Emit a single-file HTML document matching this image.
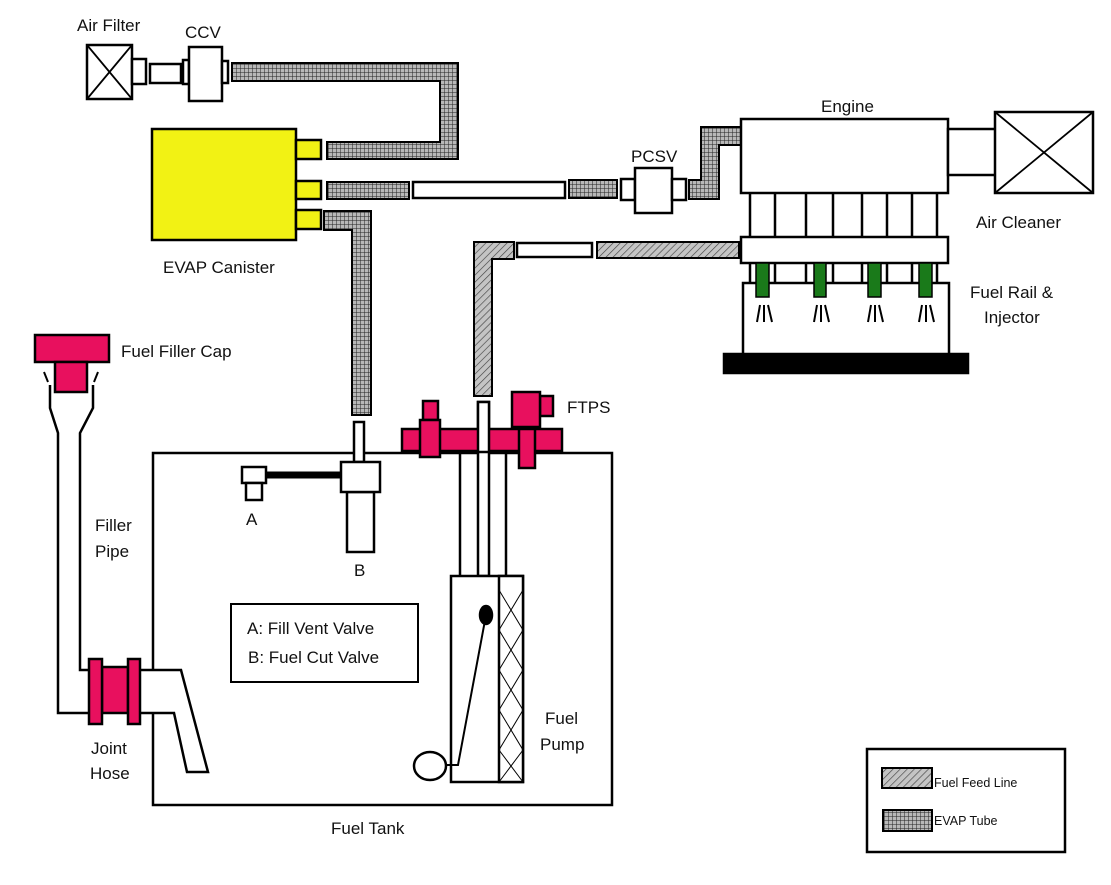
<!DOCTYPE html>
<html><head><meta charset="utf-8"><style>
html,body{margin:0;padding:0;background:#fff;}
svg{display:block;}
text{font-family:"Liberation Sans",Arial,sans-serif;fill:#111;}
</style></head><body>
<svg width="1111" height="885" viewBox="0 0 1111 885" xmlns="http://www.w3.org/2000/svg">
<defs>
<pattern id="grid" width="4" height="4" patternUnits="userSpaceOnUse">
<rect width="4" height="4" fill="#b8b8b8"/>
<path d="M0 0H4M0 0V4" stroke="#222" stroke-width="1"/>
</pattern>
<pattern id="hatch" width="5" height="5" patternUnits="userSpaceOnUse" patternTransform="rotate(45)">
<rect width="5" height="5" fill="#c4c4c4"/>
<path d="M0 0V5" stroke="#444" stroke-width="1.3"/>
</pattern>
</defs>
<g stroke="#000" stroke-width="2.5" fill="#fff">
<rect x="87" y="45" width="45" height="54"/>
<path d="M87 45L132 99M132 45L87 99" fill="none" stroke-width="1.8"/>
<rect x="132" y="59" width="14" height="25"/>
<rect x="150" y="64" width="31" height="19"/>
<rect x="183" y="60" width="6" height="24"/>
<rect x="189" y="47" width="33" height="54"/>
<rect x="222" y="61" width="6" height="22"/>
<path d="M232 63H458V159H327V142H440V81H232Z" fill="url(#grid)" stroke-width="2"/>
<rect x="152" y="129" width="144" height="111" fill="#f2f214"/>
<rect x="296" y="140" width="25" height="19" fill="#f2f214"/>
<rect x="296" y="181" width="25" height="18" fill="#f2f214"/>
<rect x="296" y="210" width="25" height="19" fill="#f2f214"/>
<rect x="327" y="182" width="82" height="17" fill="url(#grid)" stroke-width="2"/>
<rect x="413" y="182" width="152" height="16"/>
<rect x="569" y="180" width="48" height="18" fill="url(#grid)" stroke-width="2"/>
<path d="M324 211H371V415H352V230H324Z" fill="url(#grid)" stroke-width="2"/>
<rect x="621" y="179" width="14" height="21"/>
<rect x="635" y="168" width="37" height="45"/>
<rect x="672" y="179" width="14" height="21"/>
<path d="M689 180H701V127H741V145H719V199H689Z" fill="url(#grid)" stroke-width="2"/>
<rect x="741" y="119" width="207" height="74"/>
<rect x="948" y="129" width="48" height="46"/>
<rect x="995" y="112" width="98" height="81"/>
<path d="M995 112L1093 193M1093 112L995 193" fill="none" stroke-width="1.8"/>
<path d="M750 193V237M775 193V237M806 193V237M833 193V237M862 193V237M887 193V237M912 193V237M937 193V237" fill="none"/>
<rect x="743" y="283" width="206" height="72"/>
<path d="M750 263V283M775 263V283M806 263V283M833 263V283M862 263V283M887 263V283M912 263V283M937 263V283" fill="none"/>
<rect x="741" y="237" width="207" height="26"/>
<rect x="756" y="263" width="13" height="34" fill="#1a7a1a" stroke-width="1.5"/>
<rect x="814" y="263" width="12" height="34" fill="#1a7a1a" stroke-width="1.5"/>
<rect x="868" y="263" width="13" height="34" fill="#1a7a1a" stroke-width="1.5"/>
<rect x="919" y="263" width="13" height="34" fill="#1a7a1a" stroke-width="1.5"/>
<g fill="none" stroke-width="2">
<path d="M757 322L760 305M764 305V322M768 305L772 322"/>
<path d="M814 322L817 305M821 305V322M825 305L829 322"/>
<path d="M868 322L871 305M875 305V322M879 305L883 322"/>
<path d="M919 322L922 305M926 305V322M930 305L934 322"/>
</g>
<rect x="724" y="354" width="244" height="19" fill="#000"/>
<rect x="597" y="242" width="142" height="16" fill="url(#hatch)" stroke-width="2"/>
<rect x="517" y="243" width="75" height="14"/>
<path d="M474 242H514V259H492V396H474Z" fill="url(#hatch)" stroke-width="2"/>
<rect x="153" y="453" width="459" height="352" fill="none"/>
<rect x="35" y="335" width="74" height="27" fill="#e8105e"/>
<rect x="55" y="362" width="32" height="30" fill="#e8105e"/>
<path d="M44 372L48 382M98 372L94 382" fill="none" stroke-width="2"/>
<path d="M50 385V408L58 433V713H89M93 385V408L80 433V670H89" fill="none"/>
<path d="M140 670H181L208 772H187L174 713H140" fill="#fff"/>
<rect x="102" y="667" width="26" height="46" fill="#e8105e"/>
<rect x="89" y="659" width="13" height="65" fill="#e8105e"/>
<rect x="128" y="659" width="12" height="65" fill="#e8105e"/>
<rect x="242" y="467" width="24" height="16"/>
<rect x="246" y="483" width="16" height="17"/>
<rect x="266" y="472" width="75" height="6" fill="#000" stroke-width="1"/>
<rect x="354" y="422" width="10" height="40"/>
<rect x="347" y="492" width="27" height="60"/>
<rect x="341" y="462" width="39" height="30"/>
<rect x="231" y="604" width="187" height="78" stroke-width="2"/>
<path d="M460 453V576M506 453V576" fill="none"/>
<rect x="478" y="402" width="11" height="174"/>
<rect x="451" y="576" width="72" height="206"/>
<rect x="499" y="576" width="24" height="206"/>
<path d="M499 590L523 630L499 670L523 710L499 750L523 782M523 590L499 630L523 670L499 710L523 750L499 782" fill="none" stroke-width="1"/>
<ellipse cx="486" cy="615" rx="6" ry="9" fill="#000"/>
<path d="M486 615L458 765H446" fill="none" stroke-width="2"/>
<ellipse cx="430" cy="766" rx="16" ry="14"/>
<rect x="402" y="429" width="160" height="22" fill="#e8105e"/>
<rect x="423" y="401" width="15" height="19" fill="#e8105e"/>
<rect x="420" y="420" width="20" height="37" fill="#e8105e"/>
<rect x="540" y="396" width="13" height="20" fill="#e8105e"/>
<rect x="512" y="392" width="28" height="35" fill="#e8105e"/>
<rect x="519" y="429" width="16" height="39" fill="#e8105e"/>
<rect x="478" y="402" width="11" height="50"/>
<rect x="867" y="749" width="198" height="103"/>
<rect x="882" y="768" width="50" height="20" fill="url(#hatch)" stroke-width="2"/>
<rect x="883" y="810" width="49" height="21" fill="url(#grid)" stroke-width="2"/>
</g>
<g font-size="17">
<text x="77" y="31">Air Filter</text>
<text x="185" y="38">CCV</text>
<text x="163" y="273">EVAP Canister</text>
<text x="631" y="162">PCSV</text>
<text x="821" y="112">Engine</text>
<text x="976" y="228">Air Cleaner</text>
<text x="970" y="298">Fuel Rail &amp;</text>
<text x="984" y="323">Injector</text>
<text x="121" y="357">Fuel Filler Cap</text>
<text x="567" y="413">FTPS</text>
<text x="95" y="531">Filler</text>
<text x="95" y="557">Pipe</text>
<text x="246" y="525">A</text>
<text x="354" y="576">B</text>
<text x="247" y="634">A: Fill Vent Valve</text>
<text x="248" y="663">B: Fuel Cut Valve</text>
<text x="91" y="754">Joint</text>
<text x="90" y="779">Hose</text>
<text x="545" y="724">Fuel</text>
<text x="540" y="750">Pump</text>
<text x="331" y="834">Fuel Tank</text>
</g>
<g font-size="12.5">
<text x="934" y="787">Fuel Feed Line</text>
<text x="934" y="825">EVAP Tube</text>
</g>
</svg>
</body></html>
